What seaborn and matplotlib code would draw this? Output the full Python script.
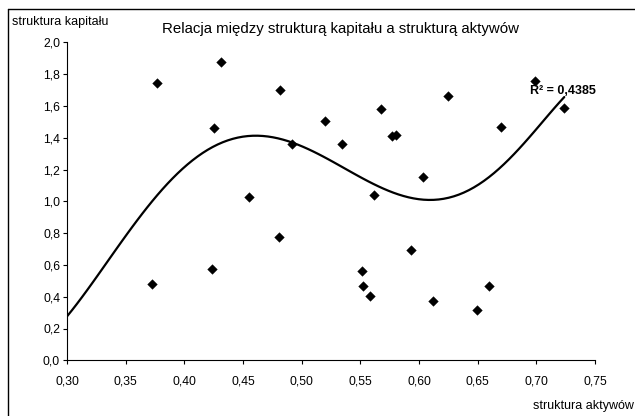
import numpy as np
import pandas as pd
import matplotlib
matplotlib.use("Agg")
import matplotlib.pyplot as plt
from matplotlib.lines import Line2D
import matplotlib.ticker as mticker
import seaborn as sns

# ---- data ----
struktura_aktywow = [0.377, 0.4315, 0.4815, 0.4256, 0.4554, 0.4918,
                     0.3722, 0.4238, 0.4807,
                     0.5199, 0.5347, 0.5676, 0.5770, 0.5804, 0.6244,
                     0.6696, 0.6991, 0.7238, 0.6032, 0.5616,
                     0.5514, 0.5523, 0.5582, 0.5929, 0.6117, 0.6497, 0.6596]
struktura_kapitalu = [1.744, 1.874, 1.700, 1.459, 1.027, 1.360,
                      0.480, 0.572, 0.777,
                      1.503, 1.360, 1.581, 1.411, 1.415, 1.664,
                      1.465, 1.759, 1.587, 1.155, 1.042,
                      0.560, 0.467, 0.402, 0.694, 0.375, 0.318, 0.467]
# points read along the drawn trendline
trend_x = [0.300, 0.3196, 0.3452, 0.3707, 0.3963, 0.4219, 0.4474, 0.4602,
           0.4815, 0.5242, 0.5668, 0.5923, 0.6094, 0.6349, 0.6690, 0.6946,
           0.7238]
trend_y = [0.279, 0.463, 0.725, 0.987, 1.208, 1.323, 1.396, 1.413,
           1.386, 1.270, 1.092, 1.025, 1.000, 1.040, 1.218, 1.406,
           1.655]
x_ticks = [0.30, 0.35, 0.40, 0.45, 0.50, 0.55, 0.60, 0.65, 0.70, 0.75]
y_ticks = [0.0, 0.2, 0.4, 0.6, 0.8, 1.0, 1.2, 1.4, 1.6, 1.8, 2.0]
title = "Relacja między strukturą kapitału a strukturą aktywów"
x_label = "struktura aktywów"
y_label = "struktura kapitału"
r2_label = "R² = 0,4385"
smooth_order = 6

df = pd.DataFrame({"x": struktura_aktywow, "y": struktura_kapitalu})
trend = pd.DataFrame({"x": trend_x, "y": trend_y})

sns.set_theme(style="white")
plt.rcParams["font.family"] = ["Liberation Sans", "DejaVu Sans"]

W, H = 635, 416
fig = plt.figure(figsize=(W / 100, H / 100), dpi=100)
ax = fig.add_axes([67 / W, 1 - 360.3 / H, (595 - 67) / W, (360.3 - 42.3) / H])

sns.regplot(data=trend, x="x", y="y", ax=ax, order=smooth_order, ci=None,
            scatter=False, truncate=True,
            line_kws={"color": "black", "linewidth": 1.6})
sns.scatterplot(data=df, x="x", y="y", ax=ax, marker="D", s=24,
                color="black", edgecolor="black", linewidth=0.3, zorder=3)

ax.set_xlim(0.30, 0.75)
ax.set_ylim(0.0, 2.0)
ax.set_xticks(x_ticks)
ax.set_yticks(y_ticks)
ax.xaxis.set_major_formatter(mticker.FuncFormatter(lambda v, p: f"{v:.2f}".replace(".", ",")))
ax.yaxis.set_major_formatter(mticker.FuncFormatter(lambda v, p: f"{v:.1f}".replace(".", ",")))
ax.set_xlabel("")
ax.set_ylabel("")
for s in ["top", "right"]:
    ax.spines[s].set_visible(False)
for s in ["left", "bottom"]:
    ax.spines[s].set_color("black")
    ax.spines[s].set_linewidth(0.8)
ax.tick_params(axis="both", which="major", direction="out", length=3,
               width=0.8, color="black", labelsize=8.8, labelcolor="black",
               bottom=True, left=True)
ax.tick_params(axis="x", pad=8)
ax.tick_params(axis="y", pad=2)
ax.patch.set_alpha(0)

fig.text(340 / W, 1 - 29 / H, title, ha="center", va="center",
         fontsize=10.8, color="black")
fig.text(12 / W, 1 - 22 / H, y_label, ha="left", va="center",
         fontsize=9.0, color="black")
fig.text(533 / W, 1 - 406 / H, x_label, ha="left", va="center",
         fontsize=9.0, color="black")
fig.text(530 / W, 1 - 91 / H, r2_label, ha="left", va="center",
         fontsize=9.0, fontweight="bold", color="black")

# chart-area border (only top and left visible in the crop)
fig.add_artist(Line2D([8 / W, 1.0], [1 - 9 / H, 1 - 9 / H], color="black",
                      linewidth=1.0, transform=fig.transFigure))
fig.add_artist(Line2D([8 / W, 8 / W], [1 - 9 / H, 0.0], color="black",
                      linewidth=1.0, transform=fig.transFigure))

fig.savefig("out.png", dpi=100)
